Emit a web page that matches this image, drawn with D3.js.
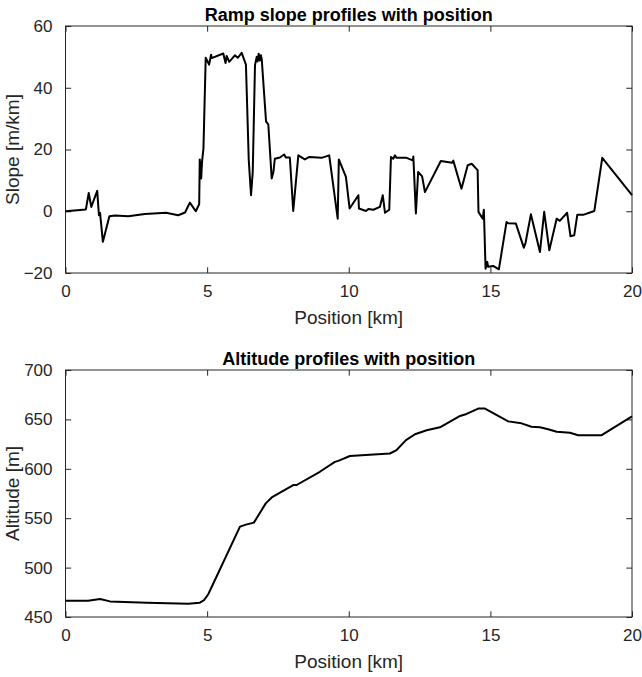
<!DOCTYPE html>
<html>
<head>
<meta charset="utf-8">
<script src="https://cdn.jsdelivr.net/npm/d3@7"></script>
<style>
body{margin:0;background:#fff;}
svg{display:block;font-family:"Liberation Sans",Arial,Helvetica,sans-serif;}
.tick text{fill:#262626;font-size:17px;}
.domain{display:none;}
.tick line{stroke:#262626;stroke-width:1;}
</style>
</head>
<body>
<svg id="fig"></svg>
<script>
//ramp slope profile
var slopeKm=[0,0.72,0.82,0.91,1.12,1.18,1.22,1.32,1.55,1.75,2.22,2.8,3.55,3.98,4.22,4.39,4.6,4.72,4.74,4.79,4.82,4.87,4.95,5.07,5.14,5.16,5.57,5.65,5.69,5.78,5.98,6.08,6.22,6.37,6.47,6.55,6.61,6.69,6.75,6.78,6.82,6.86,6.9,6.93,7.08,7.16,7.28,7.34,7.39,7.57,7.72,7.78,7.92,8.04,8.22,8.45,8.61,9.04,9.31,9.61,9.65,9.9,10.03,10.34,10.36,10.61,10.69,10.87,11.1,11.2,11.28,11.43,11.49,11.57,11.63,11.69,12.04,12.26,12.28,12.37,12.45,12.59,12.69,13.25,13.65,13.69,13.98,14.2,14.34,14.55,14.58,14.73,14.77,14.83,14.89,14.92,15.1,15.3,15.57,15.63,15.9,16.18,16.24,16.43,16.75,16.9,17.08,17.34,17.45,17.71,17.83,17.96,18.07,18.3,18.67,18.95,20]
var slopeVal=[0,0.6,5.9,1.4,6.6,-1.3,-0.5,-9.9,-1.6,-1.4,-1.6,-0.9,-0.5,-1.3,-0.4,2.8,0,2.3,16.8,10.6,16,20.3,49.7,47.5,50.7,49.6,51.1,48,50.3,48.4,50.5,49.7,51.3,47.5,16.5,5.2,12.7,47.3,50,48.5,51,48.8,50.5,49,29.1,28.1,10.6,12.7,17,17.4,18.4,17.4,17.4,0.1,18.1,16.8,17.6,17.3,18.1,-2.4,16.8,11.1,0.9,5.2,0.9,0.1,0.7,0.5,1.4,5.2,-0.5,0.5,17.6,17,18.1,17.3,17.3,16.5,17.7,-0.7,12.7,11.3,6.2,16.3,15.7,16.4,7.3,14.9,15.4,13.3,-0.2,-2.4,0.5,-18.6,-16.4,-18,-17.7,-18.8,-3.5,-3.9,-4,-11.8,-10.3,-1,-13.2,-0.2,-12.6,-2.4,-3.1,-0.5,-8.1,-7.8,-1.1,-1.1,0.1,17.3,5.2]

//altitude profile
var altKm=[0,0.8,1.22,1.57,2.87,4.34,4.73,4.89,5.04,6.16,6.37,6.65,7.07,7.28,8.04,8.16,8.98,9.51,9.63,10.04,11.45,11.69,12.02,12.34,12.75,13.22,13.93,14.16,14.57,14.81,15.63,16.1,16.45,16.75,17.04,17.34,17.81,18.1,18.93,20]
var altVal=[466.5,466.5,468.3,465.8,464.3,463.5,464.3,467,473,541.5,543.5,545.5,565,571,583.5,583.6,597,607,608,613,615.5,619,629,635,639,642,653.5,655.5,661,661,648,646,642.5,642,640,637.5,636.5,634,634,653]

//ticks
var kmTicks=[0,5,10,15,20]
var slopeTicks=[-20,0,20,40,60]
var altTicks=[450,500,550,600,650,700]

var screen={width:642,height:677}
var box={left:65.5,width:566.5,height:247}

var svg=d3.select("#fig")
    .attr("width",screen.width)
    .attr("height",screen.height)

var drawPanel=function(top,xs,ys,ydom,yTicks,title,ylabel){
    var xScale=d3.scaleLinear()
        .domain([0,20])
        .range([0,box.width])
    var yScale=d3.scaleLinear()
        .domain(ydom)
        .range([box.height,0])

    var g=svg.append("g")
        .attr("transform","translate("+box.left+","+top+")")

    //bottom and top ticks, pointing inward
    g.append("g")
        .attr("transform","translate(0,"+box.height+")")
        .call(d3.axisBottom(xScale).tickValues(kmTicks).tickSizeInner(-5.7).tickSizeOuter(0).tickPadding(12))
    g.append("g")
        .call(d3.axisTop(xScale).tickValues(kmTicks).tickSizeInner(-5.7).tickSizeOuter(0).tickFormat(""))
    g.append("g")
        .call(d3.axisLeft(yScale).tickValues(yTicks).tickSizeInner(-5.7).tickSizeOuter(0).tickPadding(13))
    g.append("g")
        .attr("transform","translate("+box.width+",0)")
        .call(d3.axisRight(yScale).tickValues(yTicks).tickSizeInner(-5.7).tickSizeOuter(0).tickFormat(""))

    g.append("rect")
        .attr("width",box.width)
        .attr("height",box.height)
        .attr("fill","none")
        .attr("stroke","#262626")
        .attr("stroke-width",1)

    var lineGenerator=d3.line()
        .x(function(d,i){return xScale(xs[i]);})
        .y(function(d){return yScale(d);})
    g.append("path")
        .datum(ys)
        .attr("d",lineGenerator)
        .attr("fill","none")
        .attr("stroke","#000")
        .attr("stroke-width",2)
        .attr("stroke-linejoin","round")

    g.append("text")
        .attr("x",box.width/2)
        .attr("y",-5)
        .attr("text-anchor","middle")
        .attr("font-size","18px")
        .attr("font-weight","bold")
        .attr("fill","#000")
        .text(title)
    g.append("text")
        .attr("x",box.width/2)
        .attr("y",box.height+51)
        .attr("text-anchor","middle")
        .attr("font-size","19px")
        .attr("fill","#262626")
        .text("Position [km]")
    g.append("text")
        .attr("transform","translate(-47,"+(box.height/2)+") rotate(-90)")
        .attr("text-anchor","middle")
        .attr("font-size","19px")
        .attr("fill","#262626")
        .text(ylabel)
}

drawPanel(26,slopeKm,slopeVal,[-20,60],slopeTicks,"Ramp slope profiles with position","Slope [m/km]")
drawPanel(370,altKm,altVal,[450,700],altTicks,"Altitude profiles with position","Altitude [m]")
</script>
</body>
</html>
